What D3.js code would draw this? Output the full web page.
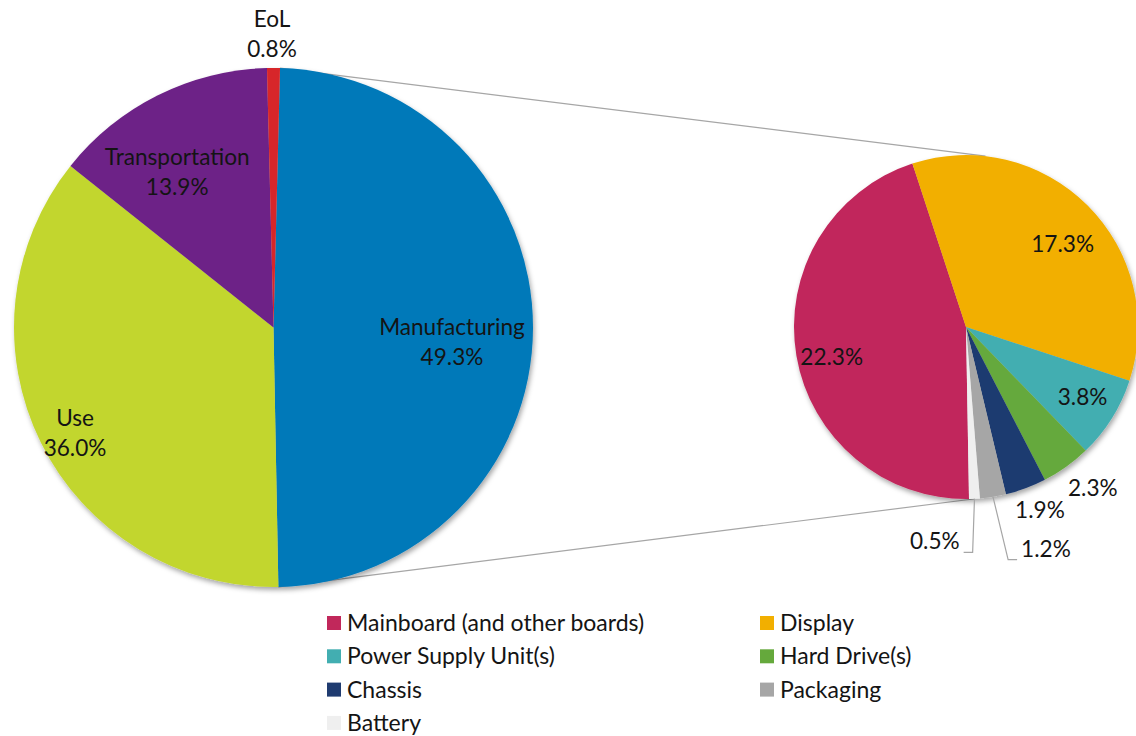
<!DOCTYPE html>
<html>
<head>
<meta charset="utf-8">
<script src="https://cdn.jsdelivr.net/npm/d3@7"></script>
<style>
  html, body { margin: 0; padding: 0; background: #fff; }
  svg { display: block; }
  text { font-family: Lato, "Open Sans", sans-serif; fill: #141414; }
</style>
</head>
<body>
<svg id="chart" width="1136" height="736"></svg>
<script>
// ---- Data ----
const mainCategories = ["Manufacturing", "Use", "Transportation", "EoL"];
const mainValues = [49.3, 36.0, 13.9, 0.8];
const mainColors = ["#0079B9", "#C2D62F", "#6D2187", "#D7282B"];

const subCategories = ["Mainboard (and other boards)", "Display", "Power Supply Unit(s)", "Hard Drive(s)", "Chassis", "Packaging", "Battery"];
const subValues = [22.3, 17.3, 3.8, 2.3, 1.9, 1.2, 0.5];
const subColors = ["#C1285B", "#F2AF00", "#42AEB1", "#65A93C", "#1F3B70", "#A6A6A6", "#EFEFEF"];

// ---- Layout ----
const W = 1136, H = 736;
const main = { cx: 273.5, cy: 327.5, r: 259.5 };
const sub = { cx: 966, cy: 327, r: 172, startDeg: 179 };
// label placement: [angle offset from slice mid (deg), radius ratio, leader]
const mainLabelLayout = [[4.4, 0.69], [-1.7, 0.866], [-5.3, 0.705], [-0.3, 1.13]];
const subLabelLayout = [[-3, 0.8], [4.4, 0.74], [-1.1, 0.79], [-2.6, 1.19], [-1.6, 1.15], [-10.8, 1.37, true], [11.1, 1.26, true]];
const connectorSubDeg = [6.5, 177];
const labelFontSize = 22.6;
const legendFontSize = 23;

const svg = d3.select("#chart");
const defs = svg.append("defs");
const f = defs.append("filter").attr("id", "shadow").attr("x", "-10%").attr("y", "-10%").attr("width", "120%").attr("height", "120%");
f.append("feDropShadow").attr("dx", 1.5).attr("dy", 3).attr("stdDeviation", 2.5)
  .attr("flood-color", "#000").attr("flood-opacity", 0.35);

const rad = d => d * Math.PI / 180;
const polar = (c, ang, rr) => [c.cx + rr * Math.sin(ang), c.cy - rr * Math.cos(ang)];

const mainTotal = d3.sum(mainValues);
const mainStart = (mainValues[3] / mainTotal) * Math.PI; // EoL centred at top
const mainPie = d3.pie().sort(null).startAngle(mainStart).endAngle(mainStart + 2 * Math.PI)(mainValues);
const subPie = d3.pie().sort(null).startAngle(rad(sub.startDeg)).endAngle(rad(sub.startDeg) + 2 * Math.PI)(subValues);

const arcMain = d3.arc().innerRadius(0).outerRadius(main.r);
const arcSub = d3.arc().innerRadius(0).outerRadius(sub.r);

// connector lines
const manuf = mainPie[0];
const connectors = [
  [polar(main, manuf.startAngle, main.r), polar(sub, rad(connectorSubDeg[0]), sub.r)],
  [polar(main, manuf.endAngle, main.r), polar(sub, rad(connectorSubDeg[1]), sub.r)]
];
svg.append("g").selectAll("line").data(connectors).join("line")
  .attr("x1", d => d[0][0]).attr("y1", d => d[0][1])
  .attr("x2", d => d[1][0]).attr("y2", d => d[1][1])
  .attr("stroke", "#A6A6A6").attr("stroke-width", 1.2);

svg.append("g").attr("transform", `translate(${main.cx},${main.cy})`).attr("filter", "url(#shadow)")
  .selectAll("path").data(mainPie).join("path")
  .attr("d", arcMain).attr("fill", (d, i) => mainColors[i]);

svg.append("g").attr("transform", `translate(${sub.cx},${sub.cy})`).attr("filter", "url(#shadow)")
  .selectAll("path").data(subPie).join("path")
  .attr("d", arcSub).attr("fill", (d, i) => subColors[i]);

const fmt = v => v.toFixed(1) + "%";

// main labels
mainPie.forEach((d, i) => {
  const [off, ratio] = mainLabelLayout[i];
  const mid = (d.startAngle + d.endAngle) / 2 + rad(off);
  const [x, y] = polar(main, mid, main.r * ratio);
  const t = svg.append("text").attr("text-anchor", "middle").attr("font-size", labelFontSize);
  t.append("tspan").attr("x", x).attr("y", y - 15).attr("dy", "0.35em").text(mainCategories[i]);
  t.append("tspan").attr("x", x).attr("y", y + 15).attr("dy", "0.35em").text(fmt(mainValues[i]));
});

// sub labels
subPie.forEach((d, i) => {
  const [off, ratio, leader] = subLabelLayout[i];
  const midRaw = (d.startAngle + d.endAngle) / 2;
  const mid = midRaw + rad(off);
  const [x, y] = polar(sub, mid, sub.r * ratio);
  const t = svg.append("text").attr("text-anchor", "middle").attr("font-size", labelFontSize)
    .attr("x", x).attr("y", y).attr("dy", "0.35em").text(fmt(subValues[i]));
  if (leader) {
    const bb = t.node().getBBox();
    const edge = polar(sub, midRaw, sub.r);
    const bottom = bb.y + bb.height - 2;
    const leftSide = x > edge[0];
    const endX = leftSide ? bb.x - 4 : bb.x + bb.width + 4;
    const elbowX = leftSide ? endX - 9 : endX + 9;
    svg.append("path")
      .attr("d", `M${edge[0]},${edge[1]}L${elbowX},${bottom}L${endX},${bottom}`)
      .attr("fill", "none").attr("stroke", "#A6A6A6").attr("stroke-width", 1.2);
  }
});

// legend
const legendX = [327, 760], legendY0 = 623, legendDy = 33.3;
const lg = svg.append("g").selectAll("g").data(subCategories).join("g")
  .attr("transform", (d, i) => `translate(${legendX[i % 2]},${legendY0 + Math.floor(i / 2) * legendDy})`);
lg.append("rect").attr("x", 0).attr("y", -7).attr("width", 14).attr("height", 14)
  .attr("fill", (d, i) => subColors[i]);
lg.append("text").attr("x", 20).attr("y", 0).attr("dy", "0.35em").attr("font-size", legendFontSize).text(d => d);
</script>
</body>
</html>
